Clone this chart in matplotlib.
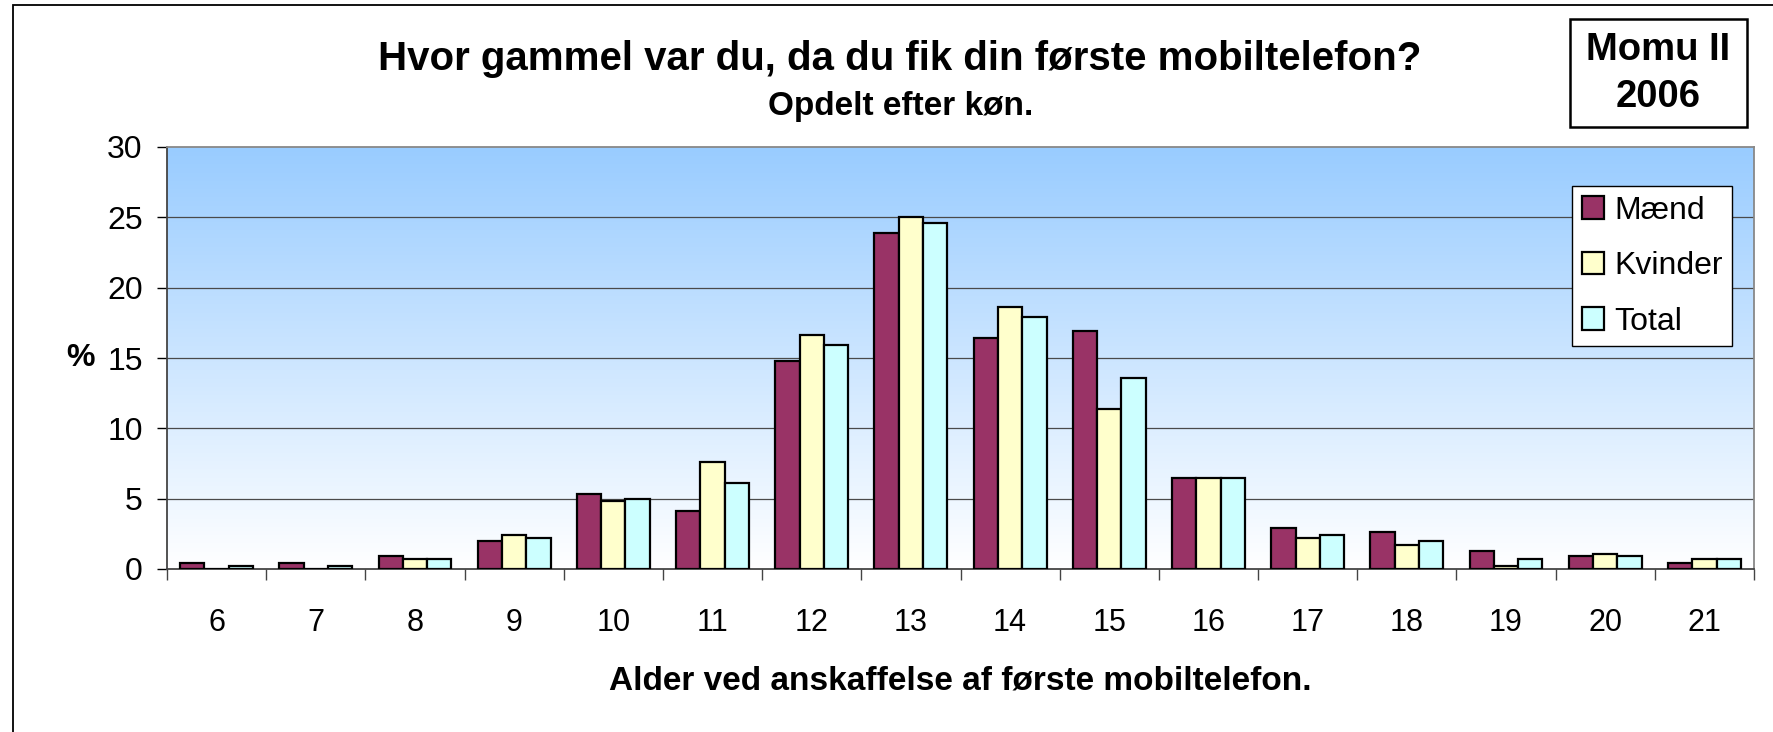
import numpy as np
import matplotlib
matplotlib.use("Agg")
import matplotlib.pyplot as plt
from matplotlib.colors import LinearSegmentedColormap
from matplotlib.patches import Rectangle

plt.rcParams['font.family'] = ['Liberation Sans', 'DejaVu Sans']

ages = ["6", "7", "8", "9", "10", "11", "12", "13", "14", "15", "16", "17", "18", "19", "20", "21"]
maend = [0.4, 0.4, 0.9, 2.0, 5.3, 4.1, 14.8, 23.9, 16.4, 16.9, 6.5, 2.9, 2.6, 1.3, 0.9, 0.4]
kvinder = [0.0, 0.0, 0.7, 2.4, 4.8, 7.6, 16.6, 25.0, 18.6, 11.4, 6.5, 2.2, 1.7, 0.2, 1.1, 0.7]
total = [0.2, 0.2, 0.7, 2.2, 5.0, 6.1, 15.9, 24.6, 17.9, 13.6, 6.5, 2.4, 2.0, 0.7, 0.9, 0.7]
series = [("Mænd", maend, "#993366"), ("Kvinder", kvinder, "#FFFFCC"), ("Total", total, "#CCFFFF")]

W, H = 1774, 732
fig = plt.figure(figsize=(W / 100, H / 100), dpi=100)
fig.patch.set_facecolor("white")

# plot area in pixel coordinates of the reference
left, right, top, bottom = 167, 1754, 147, 569
ax = fig.add_axes([left / W, 1 - bottom / H, (right - left) / W, (bottom - top) / H])

# gradient background: white at bottom -> light blue at top
cmap = LinearSegmentedColormap.from_list("bg", ["#FFFFFF", "#99CCFF"])
grad = np.linspace(0, 1, 256).reshape(-1, 1)
ax.imshow(grad, cmap=cmap, aspect="auto", origin="lower",
          extent=[-0.5, len(ages) - 0.5, 0, 30], zorder=0)

x = np.arange(len(ages))
bw = 0.245
for i, (name, vals, col) in enumerate(series):
    ax.bar(x + (i - 1) * bw, vals, bw, color=col, edgecolor="black",
           linewidth=1.6, label=name, zorder=3)

ax.set_xlim(-0.5, len(ages) - 0.5)
ax.set_ylim(0, 30)
ax.set_yticks(range(0, 31, 5))
ax.tick_params(axis="y", labelsize=23, length=7.5, width=1, direction="out", pad=10)
ax.set_xticks(x)
ax.set_xticklabels(ages)
ax.tick_params(axis="x", which="major", labelsize=22, length=0, pad=28)
ax.set_xticks(np.arange(-0.5, len(ages), 1), minor=True)
ax.tick_params(axis="x", which="minor", length=8, width=1, color="#444444")

for v in range(5, 30, 5):
    ax.axhline(v, color="#4a4a4a", linewidth=0.9, zorder=1)

for s in ["left", "bottom"]:
    ax.spines[s].set_color("#444444")
    ax.spines[s].set_linewidth(1.3)
for s in ["top", "right"]:
    ax.spines[s].set_color("#888888")
    ax.spines[s].set_linewidth(1.3)

ax.set_xlabel("Alder ved anskaffelse af første mobiltelefon.", fontsize=24,
              fontweight="bold", labelpad=20)
ax.text((95 - left) / (right - left), 15 / 30, "%", transform=ax.transAxes, fontsize=23,
        fontweight="bold", ha="right", va="center")

leg = ax.legend(loc="upper right", bbox_to_anchor=((1732 - left) / (right - left), (bottom - 186) / (bottom - top)),
                fontsize=23, frameon=True, fancybox=False, edgecolor="black",
                handlelength=0.7, handleheight=0.7, handletextpad=0.3,
                labelspacing=0.8, borderpad=0.3, borderaxespad=0)
leg.get_frame().set_linewidth(1.0)
leg.get_frame().set_facecolor("white")
leg.get_frame().set_alpha(1)

# titles
fig.text(900 / W, 1 - 59 / H, "Hvor gammel var du, da du fik din første mobiltelefon?",
         fontsize=29, fontweight="bold", ha="center", va="center")
fig.text(901 / W, 1 - 107 / H, "Opdelt efter køn.", fontsize=24,
         fontweight="bold", ha="center", va="center")

# Momu box
fig.add_artist(Rectangle((1570 / W, 1 - 127 / H), 177 / W, 108 / H,
                         transform=fig.transFigure, fill=False,
                         edgecolor="black", linewidth=1.8))
fig.text(1658 / W, 1 - 50 / H, "Momu II", fontsize=27.5, fontweight="bold",
         ha="center", va="center")
fig.text(1658 / W, 1 - 97 / H, "2006", fontsize=27.5, fontweight="bold",
         ha="center", va="center")

# outer chart border (right and bottom lie outside the image)
fig.add_artist(Rectangle((13 / W, -0.1), 1.2, 1.1 - 5 / H,
                         transform=fig.transFigure, fill=False,
                         edgecolor="black", linewidth=1.3))

fig.savefig("out.png", dpi=100, facecolor="white")
